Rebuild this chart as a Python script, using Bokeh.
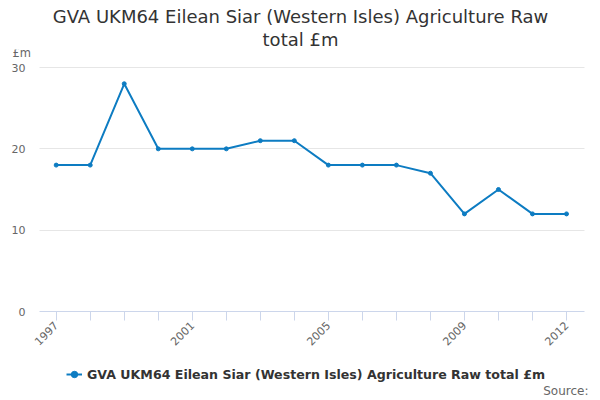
import math
from bokeh.plotting import figure
from bokeh.models import (FixedTicker, Range1d, Legend, LegendItem, Title, Label, Grid)
from bokeh.embed import file_html
from bokeh.resources import INLINE

# ---- data ----
years = [1997, 1998, 1999, 2000, 2001, 2002, 2003, 2004, 2005, 2006, 2007, 2008, 2009, 2010, 2011, 2012]
values = [18, 18, 28, 20, 20, 20, 21, 21, 18, 18, 18, 17, 12, 15, 12, 12]
shown_year_labels = [1997, 2001, 2005, 2009, 2012]
y_ticks = [0, 10, 20, 30]
series_name = "GVA UKM64 Eilean Siar (Western Isles) Agriculture Raw total £m"
title_line1 = "GVA UKM64 Eilean Siar (Western Isles) Agriculture Raw"
title_line2 = "total £m"
unit_label = "£m"
source_label = "Source:"

# ---- layout constants (pixels) ----
W, H = 600, 400
TOP = 49                      # frame top (below the titles)
X_FIRST_PX, X_LAST_PX = 55.7, 566.0
PLOT_LEFT_PX, PLOT_RIGHT_PX = 39.0, 584.0
Y0_PX, Y30_PX = 311.0, 67.0

px_per_year = (X_LAST_PX - X_FIRST_PX) / (years[-1] - years[0])
px_per_unit = (Y0_PX - Y30_PX) / (y_ticks[-1] - y_ticks[0])
x_start = years[0] - X_FIRST_PX / px_per_year
x_end = years[0] + (W - X_FIRST_PX) / px_per_year
y_start = y_ticks[0] - (H - Y0_PX) / px_per_unit
y_end = y_ticks[0] + (Y0_PX - TOP) / px_per_unit
plot_x0 = years[0] - (X_FIRST_PX - PLOT_LEFT_PX) / px_per_year
plot_x1 = years[0] + (PLOT_RIGHT_PX - X_FIRST_PX) / px_per_year

FONT = "DejaVu Sans"
COLOR = "#0d7cc2"

p = figure(width=W, height=H, output_backend="svg", toolbar_location=None,
           x_range=Range1d(x_start, x_end), y_range=Range1d(y_start, y_end),
           min_border_left=0, min_border_right=0, min_border_top=TOP, min_border_bottom=0)
p.title = None
p.add_layout(Title(text=title_line2, align="center", text_font=FONT, text_font_size="18px",
                   text_color="#333333", text_font_style="normal", standoff=0), "above")
p.add_layout(Title(text=title_line1, align="center", text_font=FONT, text_font_size="18px",
                   text_color="#333333", text_font_style="normal", standoff=0), "above")

line = p.line(years, values, line_color=COLOR, line_width=2)
pts = p.scatter(years, values, size=4, fill_color=COLOR, line_color=COLOR)

p.outline_line_color = None
p.background_fill_color = "white"
p.border_fill_color = "white"

p.xgrid.visible = False
p.ygrid.grid_line_color = "#e6e6e6"
p.ygrid.ticker = FixedTicker(ticks=y_ticks[1:])
if "cross_bounds" in Grid.properties():
    p.ygrid.cross_bounds = (plot_x0, plot_x1)

xa = p.xaxis[0]
xa.fixed_location = 0
xa.bounds = (plot_x0, plot_x1)
xa.ticker = FixedTicker(ticks=years)
xa.major_label_overrides = {y: (str(y) if y in shown_year_labels else "") for y in years}
xa.major_label_orientation = math.pi / 4
xa.axis_line_color = "#ccd6eb"
xa.major_tick_line_color = "#ccd6eb"
xa.major_tick_in = 0
xa.major_tick_out = 9
xa.minor_tick_line_color = None
xa.major_label_standoff = 3
xa.major_label_text_font = FONT
xa.major_label_text_font_size = "11px"
xa.major_label_text_color = "#666666"

ya = p.yaxis[0]
ya.fixed_location = plot_x0
ya.ticker = FixedTicker(ticks=y_ticks)
ya.axis_line_color = None
ya.major_tick_line_color = None
ya.major_tick_out = 0
ya.major_tick_in = 0
ya.minor_tick_line_color = None
ya.major_label_standoff = 14
ya.major_label_text_font = FONT
ya.major_label_text_font_size = "11px"
ya.major_label_text_color = "#666666"

p.add_layout(Label(x=12, y=H - 52, x_units="screen", y_units="screen", text=unit_label,
                   text_font=FONT, text_font_size="11.5px", text_color="#666666",
                   text_baseline="middle"))
p.add_layout(Label(x=588, y=H - 390, x_units="screen", y_units="screen", text=source_label,
                   text_font=FONT, text_font_size="12px", text_color="#666666",
                   text_align="right", text_baseline="middle"))

legend = Legend(items=[LegendItem(label=series_name, renderers=[line, pts])],
                location=(66, H - 382), orientation="horizontal",
                label_text_font=FONT, label_text_font_size="12.6px", label_text_font_style="bold",
                label_text_color="#333333", glyph_width=16, glyph_height=16, label_height=16,
                label_standoff=5,
                padding=0, margin=0, spacing=0, background_fill_alpha=0,
                border_line_color=None)
p.add_layout(legend, "center")

open("out.html", "w").write(file_html(p, INLINE))
